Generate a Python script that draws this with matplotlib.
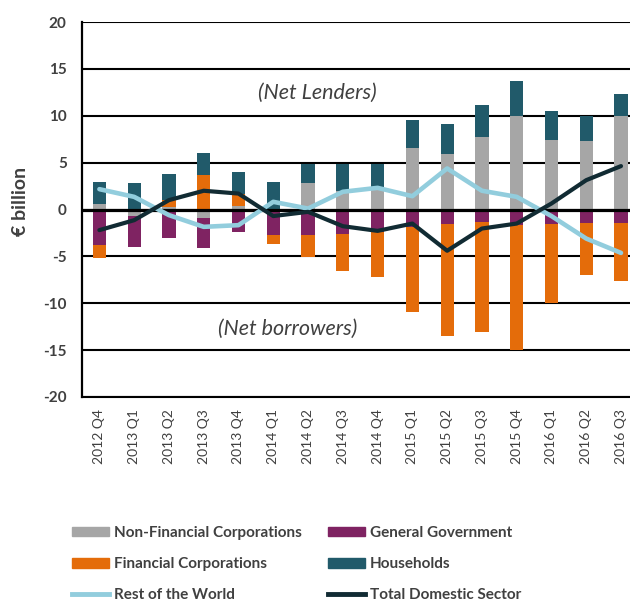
import matplotlib
matplotlib.use("Agg")
import matplotlib.pyplot as plt
import numpy as np
from matplotlib.patches import Patch
from matplotlib.lines import Line2D

plt.rcParams['font.family'] = ['Lato', 'DejaVu Sans']
plt.rcParams['axes.unicode_minus'] = False

quarters = ["2012 Q4", "2013 Q1", "2013 Q2", "2013 Q3", "2013 Q4",
            "2014 Q1", "2014 Q2", "2014 Q3", "2014 Q4",
            "2015 Q1", "2015 Q2", "2015 Q3", "2015 Q4",
            "2016 Q1", "2016 Q2", "2016 Q3"]

non_financial = [0.57, -0.7, 0.3, -0.9, 0.36, 0.1, 2.78, 2.0, 2.42,
                 6.58, 5.9, 7.69, 9.96, 7.4, 7.33, 9.96]
general_gov = [-3.8, -3.3, -3.0, -3.2, -2.4, -2.7, -2.67, -2.56, -2.45,
               -1.85, -1.57, -1.3, -1.67, -1.57, -1.42, -1.42]
financial = [-1.35, 0.0, 0.7, 3.67, 1.34, -1.0, -2.38, -3.99, -4.74,
             -9.05, -11.93, -11.8, -13.33, -8.39, -5.52, -6.23]
households = [2.38, 2.78, 2.8, 2.33, 2.3, 2.85, 2.06, 2.84, 2.42,
              2.96, 3.2, 3.41, 3.71, 3.1, 2.67, 2.39]
rest_of_world = [2.17, 1.35, -0.6, -1.85, -1.67, 0.82, 0.1, 1.89, 2.31,
                 1.42, 4.38, 2.0, 1.35, -0.7, -3.1, -4.63]
total_domestic = [-2.2, -1.14, 1.0, 2.0, 1.7, -0.7, -0.25, -1.78, -2.28,
                  -1.5, -4.4, -2.03, -1.5, 0.64, 3.13, 4.63]

series = [("Non-Financial Corporations", non_financial, "#A6A6A6"),
          ("General Government", general_gov, "#7F2362"),
          ("Financial Corporations", financial, "#E46C0A"),
          ("Households", households, "#215A6A")]

row_color = "#92CDDD"
tot_color = "#112B33"
txt_color = "#404040"

fig = plt.figure(figsize=(6.30, 6.01), dpi=100)
ax = fig.add_axes([82/630, 1-397/601, (638.4-82)/630, (397-22)/601])

x = np.arange(len(quarters))
pos_base = np.zeros(len(quarters))
neg_base = np.zeros(len(quarters))
for name, vals, col in series:
    v = np.array(vals)
    base = np.where(v >= 0, pos_base, neg_base)
    ax.bar(x, v, bottom=base, width=0.38, color=col, edgecolor='none', zorder=2)
    pos_base = pos_base + np.where(v >= 0, v, 0)
    neg_base = neg_base + np.where(v < 0, v, 0)

ax.axhline(0, color='black', lw=2.3, zorder=3)
ax.plot(x, rest_of_world, color=row_color, lw=3.3, zorder=4, solid_joinstyle='round', solid_capstyle='round')
ax.plot(x, total_domestic, color=tot_color, lw=3.0, zorder=5, solid_joinstyle='round', solid_capstyle='round')

ax.set_xlim(-0.5, len(quarters) - 0.5)
ax.set_ylim(-20, 20)
ax.set_yticks(np.arange(-20, 21, 5))
ax.yaxis.grid(True, color='black', lw=1.5, zorder=0)
ax.set_axisbelow(True)
for s in ['top', 'right']:
    ax.spines[s].set_visible(False)
ax.spines['left'].set_linewidth(1.6)
ax.spines['bottom'].set_linewidth(1.5)
ax.set_xticks(x)
ax.set_xticklabels(quarters, rotation=90, fontsize=10, color=txt_color)
for lab in ax.get_yticklabels():
    lab.set_fontweight('bold')
ax.tick_params(axis='y', length=0, pad=11, labelsize=11, labelcolor=txt_color)
ax.tick_params(axis='x', length=0, pad=9)

ax.text(6.26, 12.45, "(Net Lenders)", style='italic', fontsize=15.5, color=txt_color,
        ha='center', va='center')
ax.text(5.41, -12.7, "(Net borrowers)", style='italic', fontsize=15.5, color=txt_color,
        ha='center', va='center')

fig.text(21/630, 1-201/601, "€ billion", rotation=90, fontsize=14, fontweight='bold',
         color=txt_color, ha='center', va='center')

handles = [Patch(color=series[0][2]), Patch(color=series[2][2]),
           Line2D([], [], color=row_color, lw=3.5),
           Patch(color=series[1][2]), Patch(color=series[3][2]),
           Line2D([], [], color=tot_color, lw=3.5)]
labels = ["Non-Financial Corporations", "Financial Corporations", "Rest of the World",
          "General Government", "Households", "Total Domestic Sector"]
leg = fig.legend(handles, labels, ncol=2, loc='upper left',
                 bbox_to_anchor=(72/630, 1-526/601), frameon=False,
                 prop={'weight': 'bold', 'size': 11}, labelcolor=txt_color,
                 handlelength=2.4, handleheight=0.59, handletextpad=0.33,
                 columnspacing=1.76, labelspacing=1.12, borderpad=0, borderaxespad=0)

fig.savefig("out.png", dpi=100)
